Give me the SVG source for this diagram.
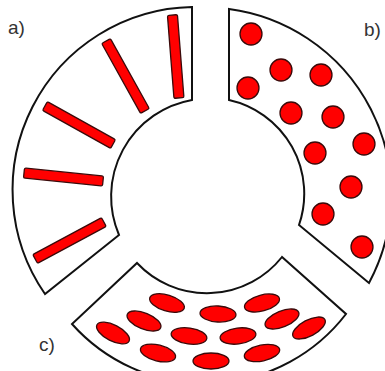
<svg xmlns="http://www.w3.org/2000/svg" width="385" height="371" viewBox="0 0 385 371">
<style>
.seg{fill:#fff;stroke:#111;stroke-width:2;stroke-linejoin:miter}
.red{fill:#f00;stroke:#3a0a0a;stroke-width:1.3}
.lbl{font-family:"Liberation Sans",Arial,sans-serif;font-size:19px;fill:#333}
</style>
<rect width="385" height="371" fill="#fff"/>
<g id="segment-a">
<path class="seg" d="M192,7 L192,100 A98,98 0 0,0 119,235 L45,294 A183,183 0 0,1 192,7 Z"/>
<rect class="red" x="-41.6" y="-5" width="83.2" height="10" rx="1.5" transform="translate(175.7,56.5) rotate(85.5)"/>
<rect class="red" x="-40" y="-5" width="80" height="10" rx="1.5" transform="translate(125.5,76) rotate(60.9)"/>
<rect class="red" x="-39" y="-5" width="78" height="10" rx="1.5" transform="translate(79,125) rotate(29.2)"/>
<rect class="red" x="-39.7" y="-5" width="79.4" height="10" rx="1.5" transform="translate(63.5,177) rotate(5.8)"/>
<rect class="red" x="-39" y="-5" width="78" height="10" rx="1.5" transform="translate(69.5,240.5) rotate(-28.2)"/>
</g>
<g id="segment-b">
<path class="seg" d="M229,9 A187,187 0 0,1 369,283 L299,225 A96,96 0 0,0 229,100 Z"/>
<circle class="red" cx="251" cy="34" r="11"/>
<circle class="red" cx="281" cy="70" r="11"/>
<circle class="red" cx="321" cy="75" r="11"/>
<circle class="red" cx="248" cy="88" r="11"/>
<circle class="red" cx="291" cy="113" r="11"/>
<circle class="red" cx="333" cy="117" r="11"/>
<circle class="red" cx="364" cy="144" r="11"/>
<circle class="red" cx="315" cy="153" r="11"/>
<circle class="red" cx="351" cy="187" r="11"/>
<circle class="red" cx="323" cy="214" r="11"/>
<circle class="red" cx="362" cy="247" r="11"/>
</g>
<g id="segment-c">
<path class="seg" d="M137,263 A96,96 0 0,0 282,257 L346,314 A178,178 0 0,1 72,324 Z"/>
<ellipse class="red" cx="167" cy="303" rx="18" ry="8" transform="rotate(17 167 303)"/>
<ellipse class="red" cx="144" cy="321" rx="18" ry="8" transform="rotate(22 144 321)"/>
<ellipse class="red" cx="113" cy="333" rx="18" ry="8" transform="rotate(27 113 333)"/>
<ellipse class="red" cx="218" cy="314" rx="18" ry="8" transform="rotate(3 218 314)"/>
<ellipse class="red" cx="189" cy="336" rx="18" ry="8" transform="rotate(8 189 336)"/>
<ellipse class="red" cx="158" cy="353" rx="18" ry="8" transform="rotate(14 158 353)"/>
<ellipse class="red" cx="262" cy="303" rx="18" ry="8" transform="rotate(-15 262 303)"/>
<ellipse class="red" cx="282" cy="319" rx="18" ry="8" transform="rotate(-22 282 319)"/>
<ellipse class="red" cx="309" cy="328" rx="18" ry="8" transform="rotate(-28 309 328)"/>
<ellipse class="red" cx="238" cy="336" rx="18" ry="8" transform="rotate(-7 238 336)"/>
<ellipse class="red" cx="262" cy="353" rx="18" ry="8" transform="rotate(-12 262 353)"/>
<ellipse class="red" cx="211" cy="361" rx="18" ry="8"/>
</g>
<g id="labels">
<text class="lbl" x="8" y="34">a)</text>
<text class="lbl" x="364" y="36">b)</text>
<text class="lbl" x="39" y="351">c)</text>
</g>
</svg>
